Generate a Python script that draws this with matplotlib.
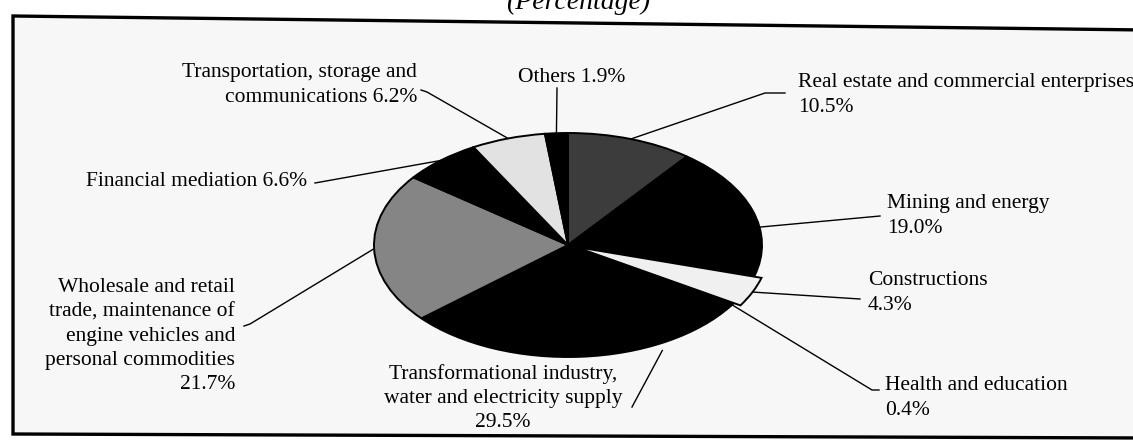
"""
Pie chart of sector shares (percentage), redrawn from a scanned figure.

    python plot.py   -> out.png
"""
import matplotlib

matplotlib.use("Agg")
import matplotlib.pyplot as plt
import numpy as np
from matplotlib.patches import Polygon

W, H = 1133, 441  # output size in pixels (dpi 100)

sectors = [
    "Real estate and commercial enterprises",
    "Mining and energy",
    "Constructions",
    "Health and education",
    "Transformational industry, water and electricity supply",
    "Wholesale and retail trade, maintenance of engine vehicles and personal commodities",
    "Financial mediation",
    "Transportation, storage and communications",
    "Others",
]
shares = [10.5, 19.0, 4.3, 0.4, 29.5, 21.7, 6.6, 6.2, 1.9]
label_fmt = [
    "Real estate and commercial enterprises\n{:.1f}%",
    "Mining and energy\n{:.1f}%",
    "Constructions\n{:.1f}%",
    "Health and education\n{:.1f}%",
    "Transformational industry,\nwater and electricity supply\n{:.1f}%",
    "Wholesale and retail\ntrade, maintenance of\nengine vehicles and\npersonal commodities\n{:.1f}%",
    "Financial mediation {:.1f}%",
    "Transportation, storage and\ncommunications {:.1f}%",
    "Others {:.1f}%",
]

# styling, one entry per sector
colors = ["#3c3c3c", "black", "#f0f0f0", "black", "black",
          "#858585", "black", "#e2e2e2", "black"]
explode = [0, 0, 0.04, 0, 0, 0, 0, 0, 0]

# label layout in pixel coords (x, y, ha) + leader points on the text side,
# and where on the wedge arc the leader starts (fraction of the arc, radius)
label_pos = [(798, 95, "left"), (887, 216, "left"), (868, 293, "left"),
             (885, 398, "left"), (503, 398, "center"), (235, 336, "right"),
             (307, 182, "right"), (417, 85, "right"), (572, 78, "center")]
leader_pts = [[(765, 93), (785, 93)], [(880, 216)], [(860, 299)],
              [(872, 390), (879, 390)], [(632, 407)], [(250, 324), (244, 326)],
              [(315, 183)], [(427, 92), (421, 90)], [(557, 88)]]
anchor_frac = [0.5, 0.63, 0.5, 0.5, 0.28, 0.5, 0.5, 0.5, 0.5]
anchor_rad = [1.0, 1.0, 1.0, 1.0, 1.06, 1.0, 1.0, 1.0, 1.0]

PIE_C = (568, 245)     # ellipse centre, px
PIE_AB = (194, 112)    # semi-axes, px
PAD = 1.3

FONT = "Liberation Serif"
FS = 15.5


def main() -> None:
    fig = plt.figure(figsize=(W / 100, H / 100), dpi=100, facecolor="white")

    ax = fig.add_axes([0, 0, 1, 1])
    ax.set_xlim(0, W)
    ax.set_ylim(H, 0)
    ax.axis("off")

    # scanned frame with its slightly skewed top edge
    frame = Polygon([(13, 16), (1145, 30), (1145, 438), (13, 434)], closed=True,
                    facecolor="#f7f7f7", edgecolor="black", linewidth=2.4, zorder=0)
    ax.add_patch(frame)

    ax.text(578, 9, "(Percentage)", ha="center", va="baseline",
            fontsize=20, style="italic", family=FONT)

    # pie in its own axes, squashed into an ellipse
    a, b = PIE_AB
    ax_pie = fig.add_axes([(PIE_C[0] - a * PAD) / W, (H - PIE_C[1] - b * PAD) / H,
                           2 * a * PAD / W, 2 * b * PAD / H])
    wedges, _ = ax_pie.pie(shares, colors=colors, explode=explode, startangle=90,
                           counterclock=False,
                           wedgeprops=dict(edgecolor="black", linewidth=1.4))
    ax_pie.set_aspect("auto")
    ax_pie.set_xlim(-PAD, PAD)
    ax_pie.set_ylim(-PAD, PAD)
    ax_pie.axis("off")

    to_main = ax_pie.transData + ax.transData.inverted()
    for w, share, fmt, (tx, ty, ha), pts, f, r in zip(
            wedges, shares, label_fmt, label_pos, leader_pts, anchor_frac, anchor_rad):
        t1, t2 = w.theta1, w.theta2
        ang = np.deg2rad(t2 - f * (t2 - t1))
        cx, cy = w.center
        start = to_main.transform((cx + r * np.cos(ang), cy + r * np.sin(ang)))
        xs = [start[0]] + [p[0] for p in pts]
        ys = [start[1]] + [p[1] for p in pts]
        ax.plot(xs, ys, color="black", linewidth=1.0, zorder=1)
        ax.text(tx, ty, fmt.format(share), ha=ha, va="center", multialignment=ha,
                fontsize=FS, family=FONT, linespacing=1.38, zorder=2)

    fig.savefig("out.png", dpi=100, facecolor="white")
    plt.close(fig)


if __name__ == "__main__":
    main()
